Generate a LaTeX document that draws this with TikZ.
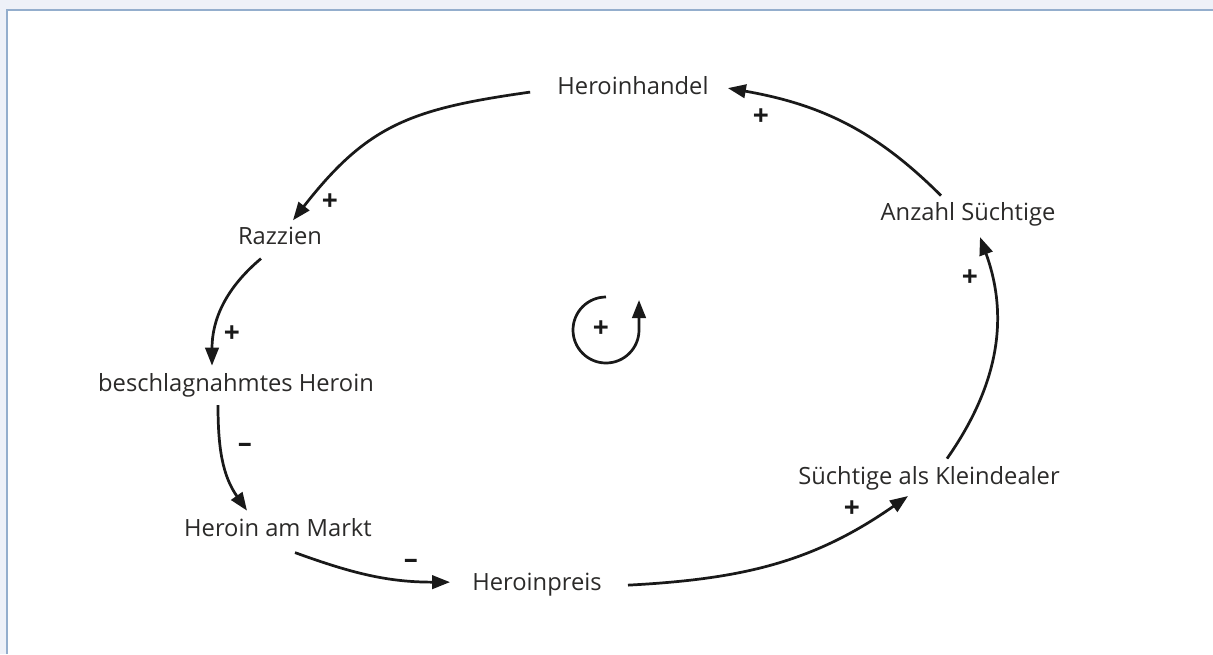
\documentclass[tikz,border=0pt]{standalone}
\usepackage{fontspec}
\setmainfont{Open Sans}
\usetikzlibrary{arrows.meta}
\definecolor{textgrey}{HTML}{2B2A29}
\definecolor{framefill}{HTML}{EEF1F8}
\definecolor{frameline}{HTML}{94AECD}
\begin{document}
\begin{tikzpicture}[x=0.02cm, y=0.02cm,
    factor/.style={inner sep=0pt, anchor=base, text=textgrey, font=\fontsize{13.5}{16}\selectfont},
    sign/.style={inner sep=0pt, text=black!90, font=\fontsize{16}{18}\selectfont\bfseries},
    link/.style={line width=1.55pt, draw=black!90, -{Triangle[length=3.6mm,width=2.7mm]}}]

    % Frame
    \useasboundingbox (0,0) rectangle (1213,654);
    \fill[framefill] (0,0) rectangle (1213,654);
    \fill[white] (7,0) rectangle (1213,644);
    \draw[frameline, line width=1.2pt] (6.8,0) -- (6.8,644.2) -- (1213,644.2);

    % Factors of the loop
    \node[factor] (handel) at (633,560) {Heroinhandel};
    \node[factor] (razzien) at (280,410) {Razzien};
    \node[factor] (beschlag) at (236,263) {beschlagnahmtes Heroin};
    \node[factor] (markt) at (278,118) {Heroin am Markt};
    \node[factor] (preis) at (537,64) {Heroinpreis};
    \node[factor] (dealer) at (929,170) {Süchtige als Kleindealer};
    \node[factor] (anzahl) at (968,434) {Anzahl Süchtige};

    % Links
    \draw[link] ([shift={(-27,-7)}]handel.west) to[out=188, in=52, looseness=1.15] ([shift={(13,6)}]razzien.north);
    \draw[link] ([shift={(-19,-14)}]razzien.south) to[out=220, in=90] ([shift={(-24,7)}]beschlag.north);
    \draw[link] ([shift={(-18,-8)}]beschlag.south) to[out=270, in=125] ([shift={(-31,7)}]markt.north);
    \draw[link] ([shift={(17,-16)}]markt.south) to[out=-20, in=180] ([shift={(-22,2)}]preis.west);
    \draw[link] ([shift={(26,-1)}]preis.east) to[out=3, in=215] ([shift={(-21,-6)}]dealer.south);
    \draw[link] ([shift={(18,7)}]dealer.north) to[out=55, in=-70] ([shift={(12,-11)}]anzahl.south);
    \draw[link] ([shift={(-27,6)}]anzahl.north) to[out=135, in=-10] ([shift={(19,-3)}]handel.east);

    % Polarities
    \node[sign] (s1) at (330,452) {+};
    \node[sign] (s2) at (232,320) {+};
    \node[sign] (s3) at (245,206) {–};
    \node[sign] (s4) at (411,90) {–};
    \node[sign] (s5) at (852,145) {+};
    \node[sign] (s6) at (970,376) {+};
    \node[sign] (s7) at (761,537) {+};

    % Loop symbol
    \node[sign] (loop) at (601,325) {+};
    \draw[link] ([shift={(5,32)}]loop.center) arc[start angle=90, end angle=360, radius=33] -- ++(0,30);
\end{tikzpicture}
\end{document}
